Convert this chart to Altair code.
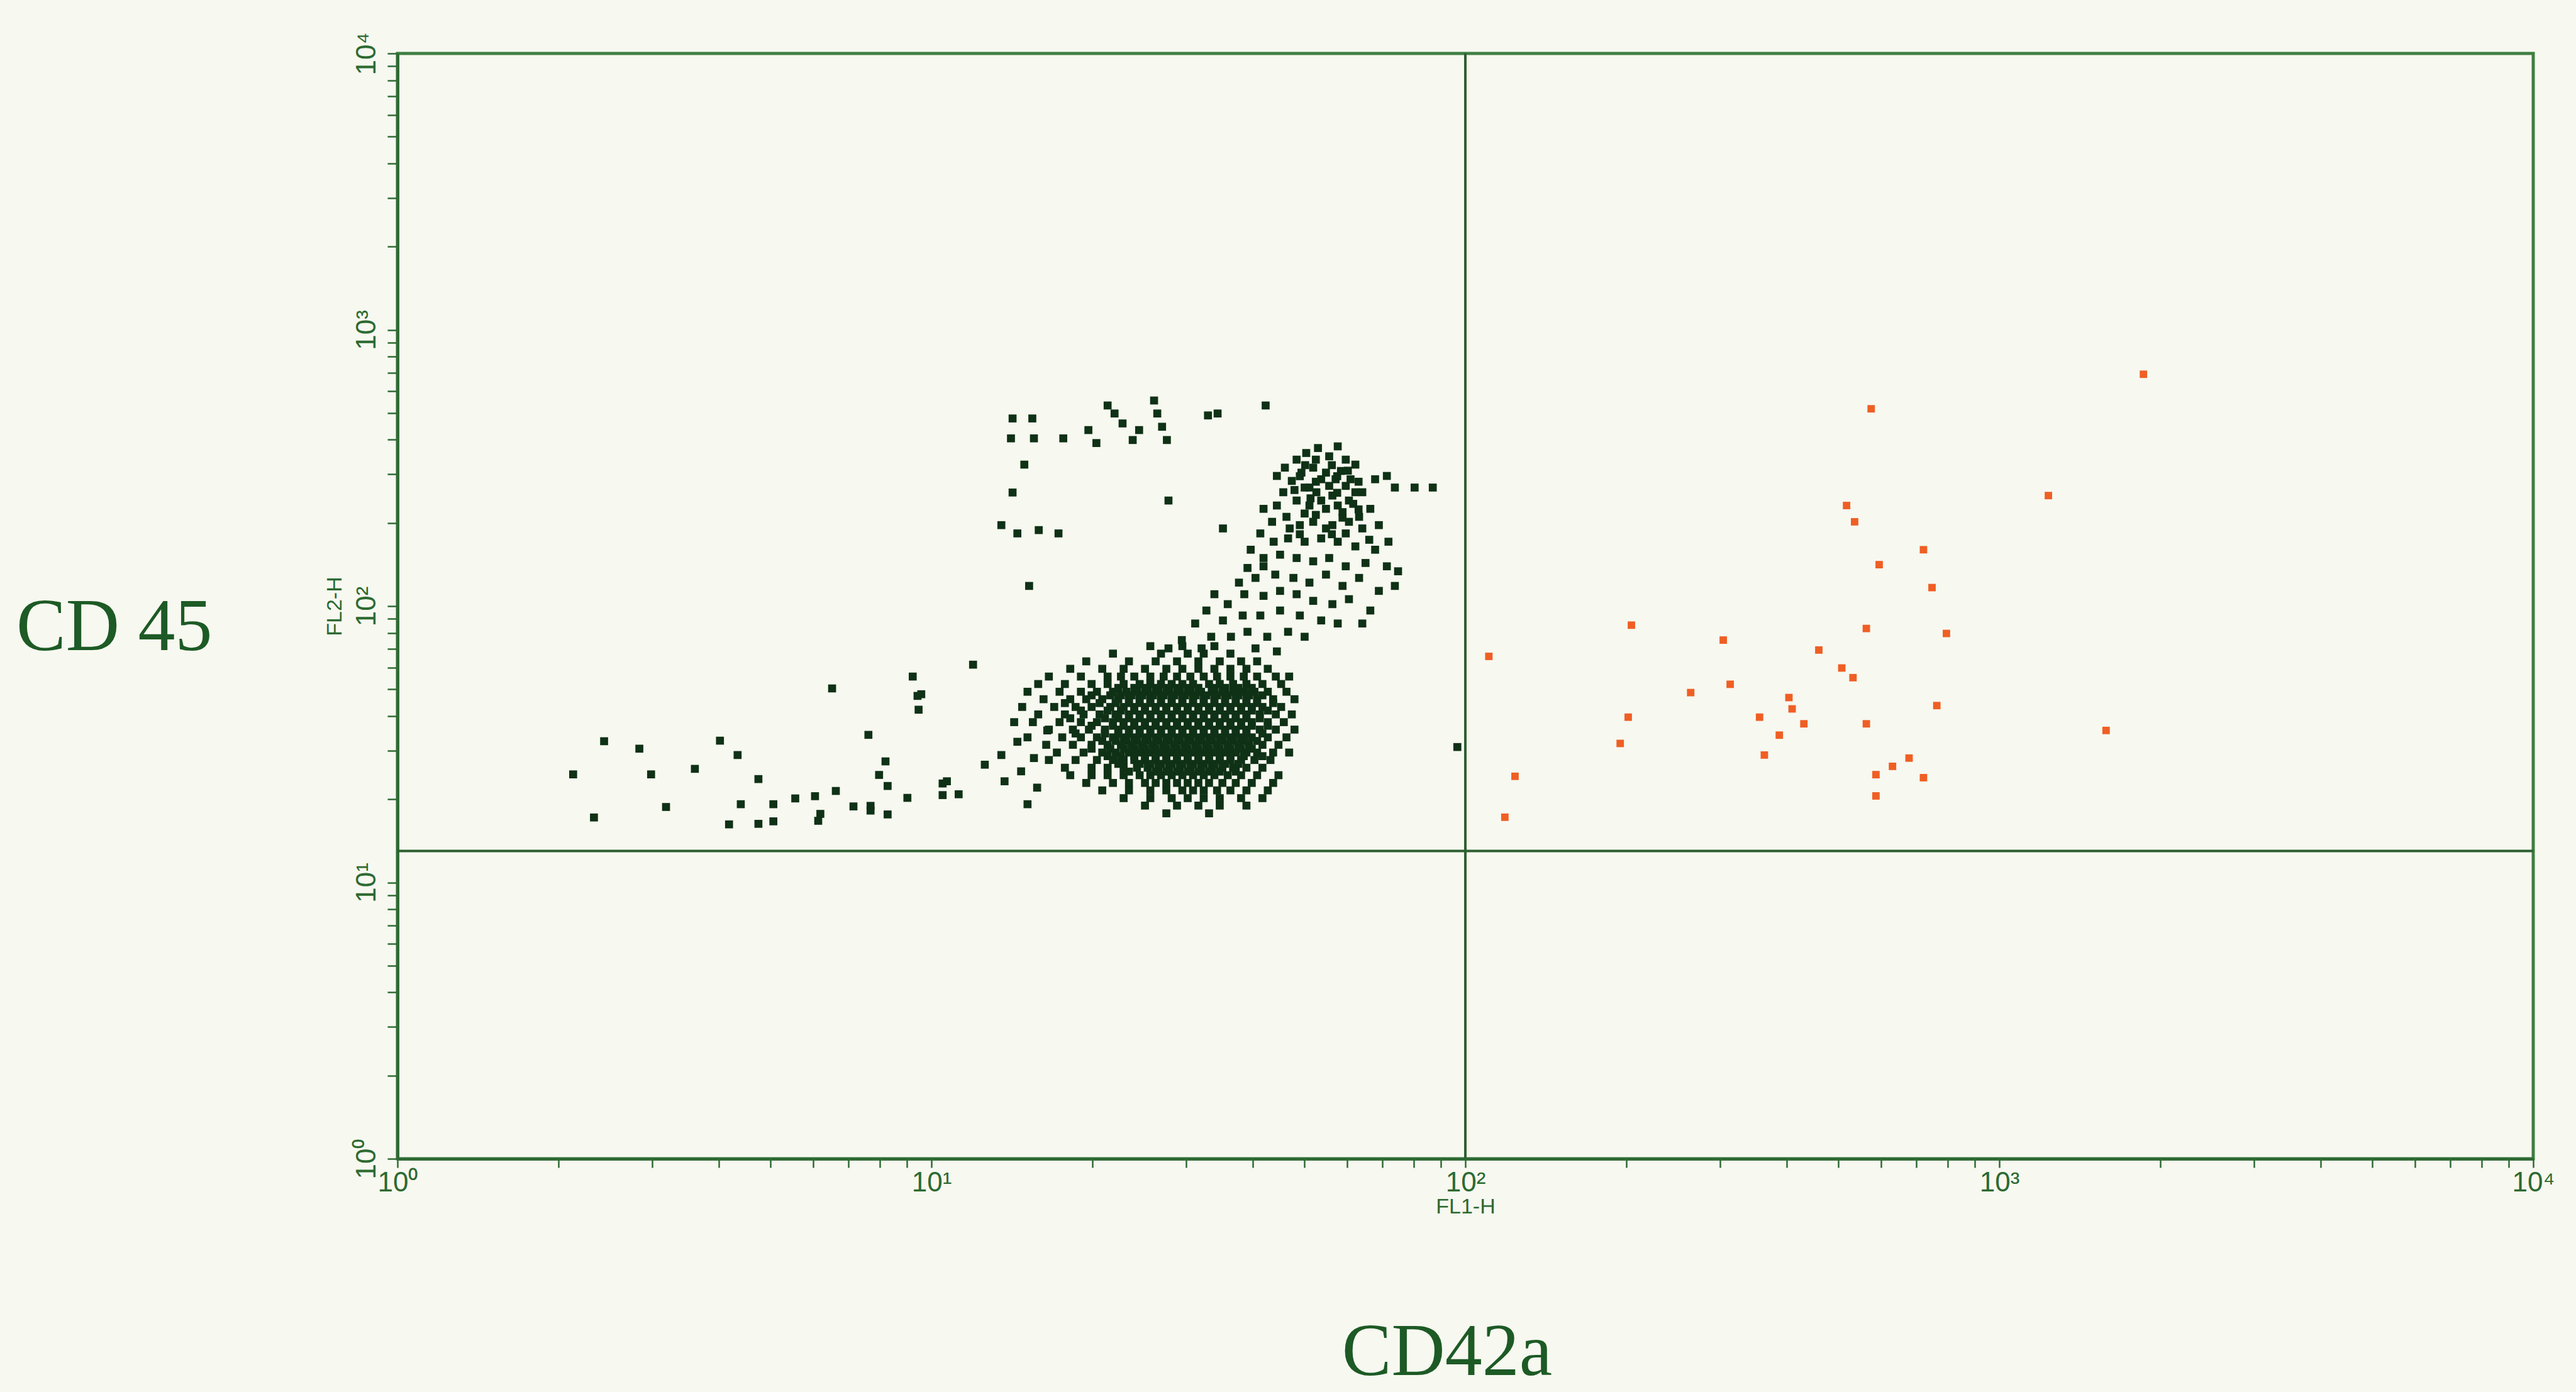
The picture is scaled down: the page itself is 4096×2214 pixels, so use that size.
import altair as alt
import pandas as pd

# ---------------------------------------------------------------
# Events, given as log10 decades of FL1-H (CD42a) and FL2-H (CD45)
# ---------------------------------------------------------------

# scattered dim events running left along the bottom of the upper-left quadrant
TAIL_EVENTS = [
    (0.387, 1.511), (0.453, 1.484), (0.329, 1.391), (0.475, 1.391), (0.368, 1.235),
    (0.503, 1.273), (0.557, 1.411), (0.604, 1.513), (0.637, 1.461), (0.676, 1.374),
    (0.643, 1.283), (0.621, 1.210), (0.676, 1.212), (0.704, 1.221), (0.704, 1.283),
    (0.745, 1.304), (0.782, 1.312), (0.792, 1.248), (0.788, 1.223), (0.821, 1.331),
    (0.814, 1.702), (0.854, 1.275), (0.886, 1.277), (0.886, 1.260), (0.918, 1.246),
    (0.882, 1.534), (0.914, 1.438), (0.902, 1.389), (0.918, 1.349), (0.955, 1.306),
    (0.965, 1.745), (0.974, 1.675), (0.981, 1.681), (0.976, 1.625), (1.021, 1.358),
    (1.021, 1.316), (1.078, 1.788), (1.029, 1.366), (1.051, 1.319), (1.100, 1.426),
    (1.131, 1.461), (1.137, 1.366), (1.161, 1.509), (1.168, 1.402), (1.192, 1.450),
    (1.198, 1.343), (1.180, 1.283), (1.155, 1.580), (1.217, 1.550),
]

# CD45-bright, CD42a-dim events near the top of the plot
UPPER_EVENTS = [
    (1.152, 2.679), (1.189, 2.679), (1.149, 2.607), (1.192, 2.607), (1.247, 2.607),
    (1.294, 2.637), (1.309, 2.590), (1.330, 2.726), (1.343, 2.697), (1.358, 2.661),
    (1.377, 2.601), (1.389, 2.637), (1.417, 2.744), (1.423, 2.697), (1.432, 2.649),
    (1.441, 2.601), (1.518, 2.690), (1.536, 2.697), (1.626, 2.726), (1.174, 2.512),
    (1.131, 2.293), (1.161, 2.263), (1.201, 2.275), (1.238, 2.263), (1.183, 2.073),
    (1.444, 2.382), (1.546, 2.281), (1.152, 2.411),
]

# diagonal population rising towards the quadrant line
PLUME_EVENTS = [
    (1.662, 2.501), (1.684, 2.530), (1.702, 2.554), (1.724, 2.572), (1.745, 2.542),
    (1.761, 2.578), (1.776, 2.530), (1.794, 2.512), (1.715, 2.501), (1.739, 2.483),
    (1.757, 2.459), (1.776, 2.435), (1.675, 2.453), (1.699, 2.429), (1.721, 2.412),
    (1.751, 2.400), (1.782, 2.382), (1.807, 2.412), (1.831, 2.459), (1.853, 2.471),
    (1.868, 2.429), (1.905, 2.429), (1.939, 2.429), (1.822, 2.352), (1.801, 2.323),
    (1.770, 2.340), (1.739, 2.352), (1.708, 2.364), (1.684, 2.382), (1.659, 2.412),
    (1.647, 2.471), (1.622, 2.352), (1.638, 2.305), (1.665, 2.323), (1.690, 2.293),
    (1.715, 2.305), (1.751, 2.293), (1.776, 2.263), (1.807, 2.281), (1.838, 2.293),
    (1.856, 2.233), (1.831, 2.204), (1.794, 2.216), (1.761, 2.233), (1.730, 2.245),
    (1.699, 2.233), (1.668, 2.245), (1.641, 2.233), (1.616, 2.263), (1.598, 2.204),
    (1.622, 2.174), (1.653, 2.186), (1.684, 2.174), (1.715, 2.162), (1.745, 2.174),
    (1.776, 2.144), (1.813, 2.156), (1.853, 2.144), (1.874, 2.126), (1.622, 2.144),
    (1.592, 2.138), (1.576, 2.085), (1.607, 2.102), (1.644, 2.114), (1.678, 2.102),
    (1.708, 2.085), (1.739, 2.114), (1.770, 2.073), (1.801, 2.102), (1.838, 2.055),
    (1.868, 2.073), (1.822, 1.984), (1.782, 2.025), (1.751, 2.007), (1.715, 2.019),
    (1.684, 2.043), (1.653, 2.055), (1.622, 2.037), (1.586, 2.043), (1.555, 2.007),
    (1.546, 1.948), (1.583, 1.966), (1.616, 1.966), (1.653, 1.984), (1.690, 1.966),
    (1.730, 1.948), (1.761, 1.937), (1.807, 1.937), (1.561, 1.889), (1.592, 1.907),
    (1.629, 1.889), (1.668, 1.907), (1.699, 1.889), (1.607, 1.847), (1.647, 1.836),
    (1.693, 2.483), (1.730, 2.459), (1.767, 2.489), (1.785, 2.459), (1.708, 2.429),
    (1.745, 2.435), (1.794, 2.412), (1.730, 2.382), (1.761, 2.364), (1.699, 2.335),
    (1.782, 2.305), (1.739, 2.281), (1.671, 2.281), (1.647, 2.364),
    (1.700, 2.510), (1.720, 2.530), (1.750, 2.510), (1.780, 2.490), (1.690, 2.470),
    (1.760, 2.470), (1.800, 2.450), (1.720, 2.450), (1.680, 2.420), (1.760, 2.410),
    (1.790, 2.370), (1.710, 2.390), (1.770, 2.320), (1.720, 2.330), (1.800, 2.350),
    (1.750, 2.260), (1.690, 2.260), (1.820, 2.240),
    (1.469, 1.877), (1.494, 1.937), (1.515, 1.984), (1.530, 2.043), (1.524, 1.889),
    (1.506, 1.847), (1.444, 1.847), (1.985, 1.490),
]

# main CD45+/CD42a- cluster: FL2-H decade and the FL1-H decades of its events
CLUSTER_ROWS = [
    (1.855, [1.41, 1.47, 1.53]),
    (1.828, [1.34, 1.43, 1.48, 1.51, 1.56]),
    (1.800, [1.29, 1.37, 1.42, 1.46, 1.50, 1.54, 1.58, 1.61]),
    (1.773, [1.26, 1.32, 1.36, 1.40, 1.44, 1.47, 1.50, 1.53, 1.56, 1.59, 1.63]),
    (1.745, [1.22, 1.28, 1.33, 1.355, 1.38, 1.41, 1.435, 1.46, 1.485, 1.51, 1.535,
             1.56, 1.585, 1.61, 1.645, 1.67]),
    (1.718, [1.20, 1.25, 1.30, 1.33, 1.36, 1.39, 1.41, 1.43, 1.45, 1.47, 1.49, 1.52,
             1.54, 1.565, 1.59, 1.62, 1.655]),
    (1.704, [1.35, 1.38, 1.40, 1.42, 1.44, 1.46, 1.48, 1.50, 1.53, 1.55, 1.575, 1.60]),
    (1.690, [1.18, 1.24, 1.28, 1.31, 1.34, 1.365, 1.385, 1.405, 1.425, 1.445, 1.465,
             1.485, 1.505, 1.525, 1.545, 1.565, 1.585, 1.605, 1.63, 1.665]),
    (1.677, [1.30, 1.335, 1.355, 1.375, 1.395, 1.415, 1.435, 1.455, 1.475, 1.495,
             1.515, 1.535, 1.555, 1.575, 1.595, 1.62]),
    (1.663, [1.21, 1.26, 1.29, 1.32, 1.35, 1.37, 1.39, 1.41, 1.43, 1.45, 1.47, 1.49,
             1.51, 1.53, 1.55, 1.57, 1.59, 1.61, 1.64, 1.68]),
    (1.649, [1.25, 1.315, 1.345, 1.37, 1.39, 1.41, 1.43, 1.45, 1.47, 1.49, 1.51, 1.53,
             1.55, 1.57, 1.59, 1.61, 1.64]),
    (1.635, [1.17, 1.23, 1.27, 1.30, 1.335, 1.36, 1.38, 1.40, 1.42, 1.44, 1.46, 1.48,
             1.50, 1.52, 1.54, 1.56, 1.58, 1.60, 1.62, 1.655]),
    (1.622, [1.28, 1.33, 1.355, 1.38, 1.40, 1.42, 1.44, 1.46, 1.48, 1.50, 1.52, 1.54,
             1.56, 1.58, 1.60, 1.63]),
    (1.608, [1.20, 1.25, 1.285, 1.315, 1.345, 1.37, 1.39, 1.41, 1.43, 1.45, 1.47,
             1.49, 1.51, 1.53, 1.55, 1.57, 1.59, 1.615, 1.645, 1.675]),
    (1.594, [1.26, 1.325, 1.35, 1.37, 1.39, 1.41, 1.43, 1.45, 1.47, 1.49, 1.51, 1.53,
             1.55, 1.57, 1.59, 1.615]),
    (1.580, [1.19, 1.24, 1.28, 1.31, 1.34, 1.36, 1.38, 1.40, 1.42, 1.44, 1.46, 1.48,
             1.50, 1.52, 1.54, 1.56, 1.58, 1.60, 1.63, 1.66]),
    (1.567, [1.30, 1.34, 1.36, 1.38, 1.40, 1.42, 1.44, 1.46, 1.48, 1.50, 1.52, 1.54,
             1.56, 1.58, 1.60, 1.63]),
    (1.553, [1.22, 1.265, 1.295, 1.325, 1.35, 1.37, 1.39, 1.41, 1.43, 1.45, 1.47,
             1.49, 1.51, 1.53, 1.55, 1.57, 1.59, 1.615, 1.645, 1.68]),
    (1.539, [1.27, 1.325, 1.35, 1.37, 1.39, 1.41, 1.43, 1.45, 1.47, 1.49, 1.51, 1.53,
             1.55, 1.57, 1.59, 1.62]),
    (1.525, [1.18, 1.245, 1.28, 1.31, 1.34, 1.36, 1.38, 1.40, 1.42, 1.44, 1.46, 1.48,
             1.50, 1.52, 1.54, 1.56, 1.58, 1.60, 1.63, 1.665]),
    (1.512, [1.32, 1.345, 1.365, 1.385, 1.405, 1.425, 1.445, 1.465, 1.485, 1.505,
             1.525, 1.545, 1.565, 1.585, 1.61]),
    (1.498, [1.215, 1.265, 1.30, 1.33, 1.355, 1.375, 1.395, 1.415, 1.435, 1.455,
             1.475, 1.495, 1.515, 1.535, 1.555, 1.575, 1.595, 1.62, 1.65]),
    (1.484, [1.30, 1.335, 1.36, 1.38, 1.40, 1.42, 1.44, 1.46, 1.48, 1.50, 1.52, 1.54,
             1.56, 1.58, 1.60]),
    (1.470, [1.235, 1.285, 1.32, 1.345, 1.37, 1.39, 1.41, 1.43, 1.45, 1.47, 1.49,
             1.51, 1.53, 1.55, 1.57, 1.59, 1.61, 1.64, 1.67]),
    (1.457, [1.33, 1.355, 1.38, 1.40, 1.42, 1.44, 1.46, 1.48, 1.50, 1.52, 1.54, 1.56,
             1.585, 1.62]),
    (1.443, [1.22, 1.27, 1.31, 1.34, 1.36, 1.38, 1.40, 1.42, 1.44, 1.46, 1.48, 1.50,
             1.52, 1.54, 1.56, 1.58, 1.605, 1.635]),
    (1.429, [1.35, 1.39, 1.41, 1.43, 1.45, 1.47, 1.49, 1.51, 1.53, 1.55, 1.575]),
    (1.415, [1.25, 1.30, 1.33, 1.36, 1.385, 1.405, 1.425, 1.445, 1.465, 1.485, 1.505,
             1.525, 1.545, 1.565, 1.59, 1.62]),
    (1.401, [1.37, 1.42, 1.44, 1.46, 1.48, 1.50, 1.52, 1.54, 1.57]),
    (1.388, [1.26, 1.30, 1.33, 1.36, 1.39, 1.41, 1.43, 1.45, 1.47, 1.49, 1.51, 1.53,
             1.555, 1.58, 1.61, 1.65]),
    (1.360, [1.29, 1.34, 1.37, 1.40, 1.42, 1.44, 1.46, 1.48, 1.50, 1.52, 1.545, 1.57,
             1.60, 1.64]),
    (1.333, [1.32, 1.37, 1.41, 1.44, 1.47, 1.49, 1.51, 1.535, 1.56, 1.59, 1.63]),
    (1.305, [1.36, 1.41, 1.45, 1.48, 1.51, 1.54, 1.58, 1.62]),
    (1.278, [1.40, 1.46, 1.50, 1.54, 1.59]),
    (1.250, [1.44, 1.52]),
]

# CD42a-positive events (upper-right quadrant)
POSITIVE_EVENTS = [
    (2.044, 1.818), (2.093, 1.384), (2.074, 1.236), (2.311, 1.931), (2.305, 1.598),
    (2.290, 1.503), (2.422, 1.687), (2.483, 1.877), (2.496, 1.717), (2.551, 1.598),
    (2.560, 1.461), (2.588, 1.533), (2.606, 1.669), (2.612, 1.628), (2.634, 1.574),
    (2.662, 1.841), (2.705, 1.776), (2.714, 2.364), (2.729, 2.305), (2.726, 1.741),
    (2.751, 1.919), (2.751, 1.574), (2.760, 2.714), (2.775, 2.150), (2.769, 1.390),
    (2.769, 1.313), (2.800, 1.420), (2.831, 1.450), (2.858, 2.204), (2.874, 2.067),
    (2.883, 1.640), (2.901, 1.901), (3.092, 2.400), (3.200, 1.550), (3.270, 2.839),
    (2.858, 1.379),
]

# quadrant gate
GATE_FL1 = 100
GATE_FL2 = 13

DECADE_LABELS = ["10\u2070", "10\u00b9", "10\u00b2", "10\u00b3", "10\u2074"]
TICK_VALUES = [m * 10 ** d for d in range(4) for m in range(1, 10)] + [10 ** 4]

# ---------------------------------------------------------------
negative = list(TAIL_EVENTS) + list(UPPER_EVENTS) + list(PLUME_EVENTS)
for fl2_dec, fl1_list in CLUSTER_ROWS:
    negative += [(fl1_dec, fl2_dec) for fl1_dec in fl1_list]

neg_df = pd.DataFrame(negative, columns=["fl1_dec", "fl2_dec"])
pos_df = pd.DataFrame(POSITIVE_EVENTS, columns=["fl1_dec", "fl2_dec"])
for df in (neg_df, pos_df):
    df["fl1"] = 10 ** df["fl1_dec"]
    df["fl2"] = 10 ** df["fl2_dec"]

label_expr = " : ".join(
    f"datum.value == {10 ** i} ? '{lab}'" for i, lab in enumerate(DECADE_LABELS)
) + " : ''"

AXIS_GREEN = "#2f6b34"
LABEL_GREEN = "#2c6a31"
TICK_FONT = "Liberation Sans"

x_scale = alt.Scale(type="log", domain=[1, 10000], nice=False)
y_scale = alt.Scale(type="log", domain=[1, 10000], nice=False)

x_axis = alt.Axis(
    values=TICK_VALUES, labelExpr=label_expr, grid=False,
    tickSize=14, tickWidth=2.5, tickColor=AXIS_GREEN,
    domainColor=AXIS_GREEN, domainWidth=5,
    labelFont=TICK_FONT, labelFontSize=44, labelColor=LABEL_GREEN,
    labelBaseline="top", labelPadding=2, labelFlush=False, labelOverlap=False,
    labelAlign="center", labelOffset=0,
    title="FL1-H", titleFont=TICK_FONT, titleFontSize=34, titleFontWeight="normal",
    titleColor=LABEL_GREEN, titleBaseline="middle", titleY=76, titleX=1698,
)
y_axis = alt.Axis(
    values=TICK_VALUES, labelExpr=label_expr, grid=False,
    tickSize=16, tickWidth=2.5, tickColor=AXIS_GREEN,
    domainColor=AXIS_GREEN, domainWidth=5,
    labelFont=TICK_FONT, labelFontSize=44, labelColor=LABEL_GREEN,
    labelAngle=270, labelAlign="center", labelBaseline="alphabetic",
    labelPadding=20, labelFlush=False, labelOverlap=False,
    title="FL2-H", titleFont=TICK_FONT, titleFontSize=34, titleFontWeight="normal",
    titleColor=LABEL_GREEN, titleAngle=270, titleBaseline="middle",
    titleX=-100, titleY=879,
)

base_x = alt.X("fl1:Q", scale=x_scale, axis=x_axis)
base_y = alt.Y("fl2:Q", scale=y_scale, axis=y_axis)

neg_layer = alt.Chart(neg_df).mark_point(
    shape="square", filled=True, size=160, color="#0f3116", opacity=1
).encode(x=base_x, y=base_y)

pos_layer = alt.Chart(pos_df).mark_point(
    shape="square", filled=True, size=140, color="#ef5f24", opacity=1
).encode(x="fl1:Q", y="fl2:Q")

gate_v = alt.Chart(pd.DataFrame({"fl1": [GATE_FL1]})).mark_rule(
    color="#2d5f31", strokeWidth=4
).encode(x="fl1:Q")

gate_h = alt.Chart(pd.DataFrame({"fl2": [GATE_FL2]})).mark_rule(
    color="#2d5f31", strokeWidth=4
).encode(y="fl2:Q")

marker_font = "Liberation Serif"
cd45 = alt.Chart(alt.Data(values=[{"t": "CD 45"}])).mark_text(
    font=marker_font, fontSize=118, color="#1d5a25", align="left", baseline="alphabetic"
).encode(x=alt.value(-606), y=alt.value(949), text="t:N")

cd42a = alt.Chart(alt.Data(values=[{"t": "CD42a"}])).mark_text(
    font=marker_font, fontSize=118, color="#1d5a25", align="center", baseline="alphabetic"
).encode(x=alt.value(1669), y=alt.value(2102), text="t:N")

chart = alt.layer(gate_v, gate_h, neg_layer, pos_layer, cd45, cd42a).properties(
    width=3396,
    height=1758,
    autosize=alt.AutoSizeParams(type="none"),
    padding={"left": 632, "top": 85, "right": 68, "bottom": 371},
    background="#f7f8f0",
).configure_view(
    stroke="#3f7f42", strokeWidth=5, fill="#f7f8f0"
)

chart.save("out.html", embed_options={"renderer": "svg", "actions": False})
